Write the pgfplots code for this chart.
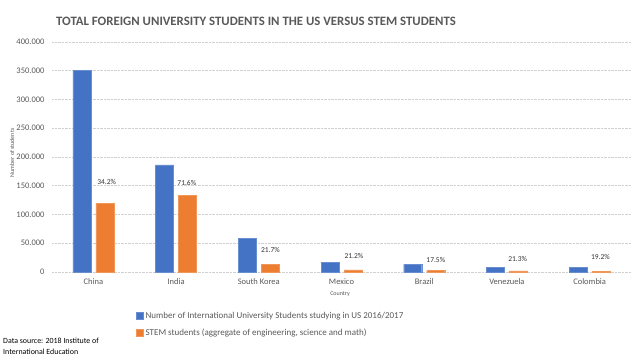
\documentclass[border=0pt]{standalone}
\usepackage{fontspec}
\setmainfont{Carlito}
\usepackage{pgfplots}
\pgfplotsset{compat=1.18}
\definecolor{cblue}{HTML}{4472C4}
\definecolor{corange}{HTML}{ED7D31}
\definecolor{txt}{HTML}{595959}
\definecolor{gridc}{HTML}{D0D0D0}
\begin{document}
\begin{tikzpicture}[x=1pt,y=1pt]
\path[use as bounding box] (0,0) rectangle (637,358);
\begin{axis}[
 at={(52pt,86pt)}, anchor=south west,
 scale only axis, width=579pt, height=230pt,
 xmin=-0.5, xmax=6.5, ymin=0, ymax=400000,
 ybar=5pt, bar width=18pt,
 xtick=data,
 xticklabels={China,India,South Korea,Mexico,Brazil,Venezuela,Colombia},
 ytick={0,50000,100000,150000,200000,250000,300000,350000,400000},
 yticklabels={0,50.000,100.000,150.000,200.000,250.000,300.000,350.000,400.000},
 scaled y ticks=false,
 major tick length=0pt,
 axis line style={draw=none},
 ymajorgrids, grid style={densely dotted, gridc, line width=0.6pt},
 yticklabel style={font=\fontsize{8.5}{10}\selectfont, text=txt, xshift=-4pt},
 xticklabel style={font=\fontsize{8.5}{10}\selectfont, text=txt, yshift=-3pt},
 clip=false,
 legend style={at={(0.14,-0.157)}, anchor=north west, draw=none, fill=none,
   font=\fontsize{9}{11}\selectfont, text=txt, row sep=5pt,
   /tikz/every even column/.append style={column sep=2pt}},
 legend cell align=left,
 legend image code/.code={\fill[#1] (0pt,-3.5pt) rectangle (7pt,3.5pt);},
]
\addplot[fill=cblue, draw=cblue!80!white] coordinates {(0,350755) (1,186267) (2,58663) (3,16835) (4,13089) (5,8540) (6,7982)};
\addplot[fill=corange, draw=corange!80!white] coordinates {(0,119958) (1,133367) (2,12730) (3,3569) (4,2290) (5,1819) (6,1533)};
\legend{Number of International University Students studying in US 2016/2017, STEM students (aggregate of engineering{,} science and math)}
\begin{scope}[every node/.style={font=\fontsize{7.5}{9}\selectfont, text=black!80}]
\node at (axis cs:0.16,156500) {34.2\%};
\node at (axis cs:1.13,155000) {71.6\%};
\node at (axis cs:2.14,38000) {21.7\%};
\node at (axis cs:3.15,28500) {21.2\%};
\node at (axis cs:4.14,21000) {17.5\%};
\node at (axis cs:5.13,22000) {21.3\%};
\node at (axis cs:6.13,25500) {19.2\%};
\end{scope}
\end{axis}
\node[font=\bfseries\fontsize{12.8}{15}\selectfont, text=txt] at (256,337) {TOTAL FOREIGN UNIVERSITY STUDENTS IN THE US VERSUS STEM STUDENTS};
\node[rotate=90, font=\fontsize{6}{7}\selectfont, text=txt] at (12,205) {Number of students};
\node[font=\fontsize{6}{7}\selectfont, text=txt] at (340,64) {Country};
\node[anchor=north west, align=left, inner sep=0pt, font=\fontsize{7.9}{11}\selectfont] at (3,20) {Data source: 2018 Institute of\\International Education};
\end{tikzpicture}
\end{document}
